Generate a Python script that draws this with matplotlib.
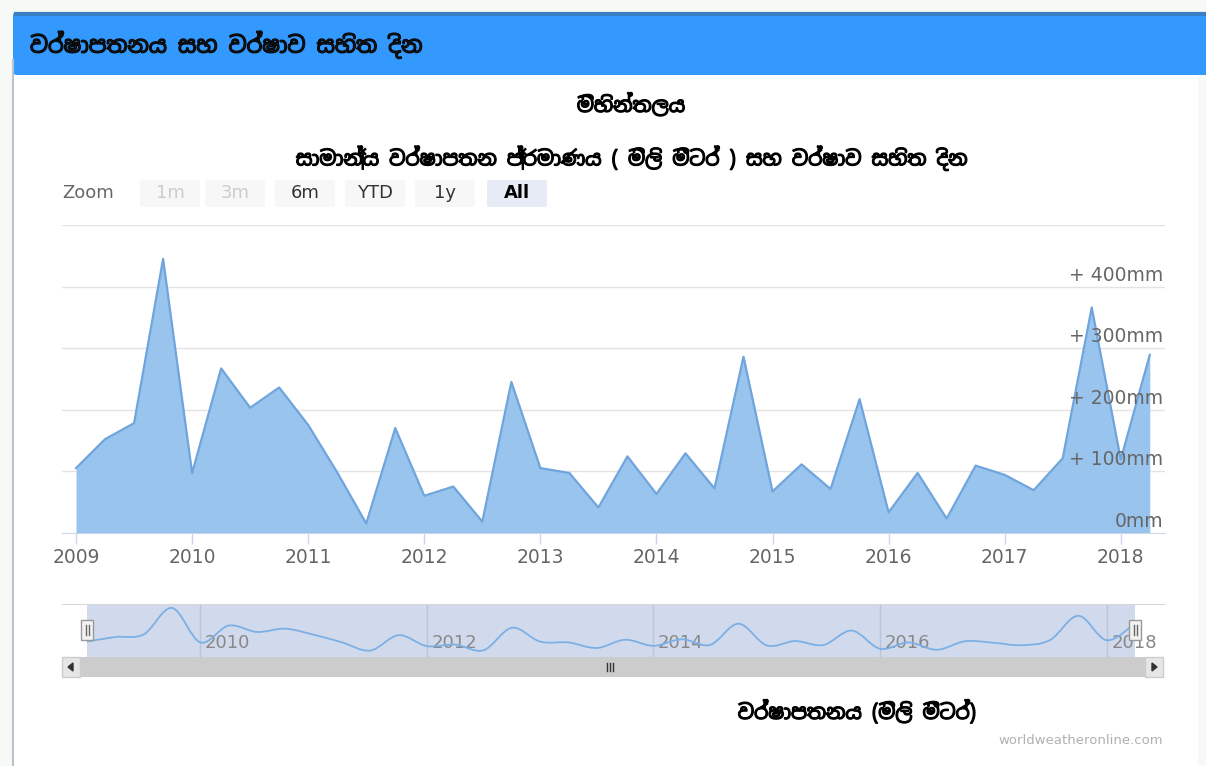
import numpy as np
import matplotlib
matplotlib.use("Agg")
import matplotlib.pyplot as plt
from matplotlib import font_manager as fm
from matplotlib import patheffects as pe
from matplotlib.patches import Rectangle, FancyBboxPatch
from matplotlib.path import Path
from matplotlib.patches import PathPatch

# quarterly rainfall, Jan / Apr / Jul / Oct of each year
years = [2009] * 4 + [2010] * 4 + [2011] * 4 + [2012] * 4 + [2013] * 4 + \
        [2014] * 4 + [2015] * 4 + [2016] * 4 + [2017] * 4 + [2018] * 2
months = [1, 4, 7, 10] * 9 + [1, 4]
rain_mm = [105, 152, 178, 445,
           97, 267, 203, 236,
           175, 98, 15, 170,
           60, 75, 18, 245,
           105, 97, 41, 124,
           63, 129, 72, 286,
           67, 111, 71, 217,
           33, 97, 23, 109,
           94, 69, 121, 366,
           119, 289]

year_ticks = list(range(2009, 2019))
nav_ticks = [2010, 2012, 2014, 2016, 2018]
y_ticks = [0, 100, 200, 300, 400]
y_labels = ["0mm", "+ 100mm", "+ 200mm", "+ 300mm", "+ 400mm"]
zoom_buttons = ["1m", "3m", "6m", "YTD", "1y", "All"]

header_title = "වර්ෂාපතනය සහ වර්ෂාව සහිත දින"
place = "මිහින්තලය"
subtitle = "සාමාන්‍ය වර්ෂාපතන ප්‍රමාණය ( මිලි මීටර් ) සහ වර්ෂාව සහිත දින"
axis_title = "වර්ෂාපතනය (මිලි මීටර්)"

# a Sinhala face if the system has one, DejaVu otherwise
sinhala = [f.name for f in fm.fontManager.ttflist
           if "Sinhala" in f.name or "Iskoola" in f.name]
si_family = ([sinhala[0]] if sinhala else []) + ["DejaVu Sans"]
# thicken the strokes a little, the Sinhala face has no heavy weight
heavy = [pe.withStroke(linewidth=0.9, foreground="black")]

x = np.array([y + (m - 1) / 12 for y, m in zip(years, months)])
v = np.array(rain_mm, dtype=float)

W, H = 1206, 766
fig = plt.figure(figsize=(W / 100, H / 100), dpi=100)
fig.patch.set_facecolor("#f6f9f6")


def px_axes(x0, y0, x1, y1, z=1):
    a = fig.add_axes([x0 / W, 1 - y1 / H, (x1 - x0) / W, (y1 - y0) / H], zorder=z)
    return a


# page layer in pixel coordinates
bg = px_axes(0, 0, W, H, z=0)
bg.set_xlim(0, W)
bg.set_ylim(H, 0)
bg.axis("off")
bg.add_patch(Rectangle((12, 60), 1186, 720, facecolor="white", edgecolor="none"))
bg.plot([12.5, 12.5], [60, H], color="#b8c4c8", lw=1.5)
bg.add_patch(FancyBboxPatch((13, 12), 1200, 63, boxstyle="round,pad=0,rounding_size=4",
                            facecolor="#3399ff", edgecolor="none"))
bg.plot([16, W], [13.5, 13.5], color="#3a7fc4", lw=3)
bg.text(30, 45, header_title, family=si_family, fontsize=16, fontweight="bold",
        color="#111111", va="center", ha="left", path_effects=heavy)
bg.text(631, 104, place, family=si_family, fontsize=14.5, fontweight="bold",
        color="black", va="center", ha="center", path_effects=heavy)
bg.text(632, 158, subtitle, family=si_family, fontsize=14.5, fontweight="bold",
        color="black", va="center", ha="center", path_effects=heavy)
bg.text(857, 711, axis_title, family=si_family, fontsize=14.5, fontweight="bold",
        color="black", va="center", ha="center", path_effects=heavy)
bg.text(1163, 740, "worldweatheronline.com", fontsize=9.5, color="#b0b0b0",
        ha="right", va="center")

# range selector buttons
bg.text(62, 193, "Zoom", fontsize=13, color="#666666", va="center", ha="left")
btn_x = [140, 205, 275, 345, 415, 487]
for bx, lab in zip(btn_x, zoom_buttons):
    face = "#e6ebf5" if lab == "All" else "#f7f7f7"
    bg.add_patch(FancyBboxPatch((bx, 180), 60, 27, boxstyle="round,pad=0,rounding_size=2",
                                facecolor=face, edgecolor="none"))
    col = "#cccccc" if lab in ("1m", "3m") else "#333333"
    bg.text(bx + 30, 193, lab, fontsize=13, color="black" if lab == "All" else col,
            fontweight="bold" if lab == "All" else "normal", ha="center", va="center")

# main area chart
ax = px_axes(62, 225, 1165, 532.7, z=2)
ax.set_facecolor("none")
ax.set_xlim(2008.879, 2018.381)
ax.set_ylim(0, 500)
ax.fill_between(x, v, 0, color="#98c4ee", lw=0, zorder=2)
ax.plot(x, v, color="#6fa5dc", lw=1.6, zorder=3)
ax.set_yticks([100, 200, 300, 400, 500])
ax.yaxis.grid(True, color="#e3e3e3", lw=1)
ax.set_axisbelow(True)
ax.tick_params(axis="y", length=0, labelleft=False)
ax.set_xticks(year_ticks)
ax.set_xticklabels([str(t) for t in year_ticks], fontsize=13.5, color="#666666")
ax.tick_params(axis="x", length=8, width=1, color="#ccd6eb", pad=3)
for s in ("top", "left", "right"):
    ax.spines[s].set_visible(False)
ax.spines["bottom"].set_color("#ccd6eb")
for val, lab in zip(y_ticks, y_labels):
    ax.annotate(lab, xy=(1, val), xycoords=ax.get_yaxis_transform(),
                xytext=(-2, 2), textcoords="offset pixels",
                ha="right", va="bottom", fontsize=13.5, color="#666666", zorder=4)

# navigator strip
nav = px_axes(62, 604, 1165, 657, z=2)
nav.set_xlim(2008.779, 2018.515)
nav.set_ylim(-50, 485)
nav.axvspan(x[0], x[-1], color="#d1daed", lw=0, zorder=1)
for t in nav_ticks:
    nav.axvline(t, color="#bcc5d6", lw=1, zorder=2)
    nav.text(t + 0.04, 90, str(t), fontsize=13, color="#888888", ha="left",
             va="center", zorder=2)

# smooth curve through the same points (cubic Bezier segments)
pts = np.column_stack([x, v])
verts = [pts[0]]
codes = [Path.MOVETO]
for i in range(len(pts) - 1):
    p0 = pts[max(i - 1, 0)]
    p1 = pts[i]
    p2 = pts[i + 1]
    p3 = pts[min(i + 2, len(pts) - 1)]
    verts += [p1 + (p2 - p0) / 6, p2 - (p3 - p1) / 6, p2]
    codes += [Path.CURVE4] * 3
nav.add_patch(PathPatch(Path(verts, codes), facecolor="none", edgecolor="#7cb0e4",
                        lw=1.3, zorder=3))
nav.set_xticks([])
nav.set_yticks([])
for s in ("left", "right", "bottom"):
    nav.spines[s].set_visible(False)
nav.spines["top"].set_color("#d8d8d8")

# handles and scrollbar on top
fg = px_axes(0, 0, W, H, z=5)
fg.set_facecolor("none")
fg.set_xlim(0, W)
fg.set_ylim(H, 0)
fg.axis("off")
for hx in (87, 1135):
    fg.add_patch(Rectangle((hx - 6, 620), 12, 20, facecolor="#f2f2f2",
                           edgecolor="#999999", lw=1, zorder=6))
    fg.plot([hx - 1.5, hx - 1.5], [625, 635], color="#666666", lw=1, zorder=7)
    fg.plot([hx + 1.5, hx + 1.5], [625, 635], color="#666666", lw=1, zorder=7)

fg.add_patch(Rectangle((62, 657), 1101, 20, facecolor="#f2f2f2", edgecolor="none"))
fg.add_patch(Rectangle((80, 657), 1065, 20, facecolor="#cccccc", edgecolor="none"))
for bx in (62, 1145):
    fg.add_patch(Rectangle((bx, 657), 18, 20, facecolor="#e6e6e6",
                           edgecolor="#cccccc", lw=1))
fg.add_patch(plt.Polygon([[73, 663], [73, 671], [68, 667]], color="#333333"))
fg.add_patch(plt.Polygon([[1152, 663], [1152, 671], [1157, 667]], color="#333333"))
for gx in (607, 610, 613):
    fg.plot([gx, gx], [663, 671], color="#333333", lw=1)

fig.savefig("out.png", dpi=100)
